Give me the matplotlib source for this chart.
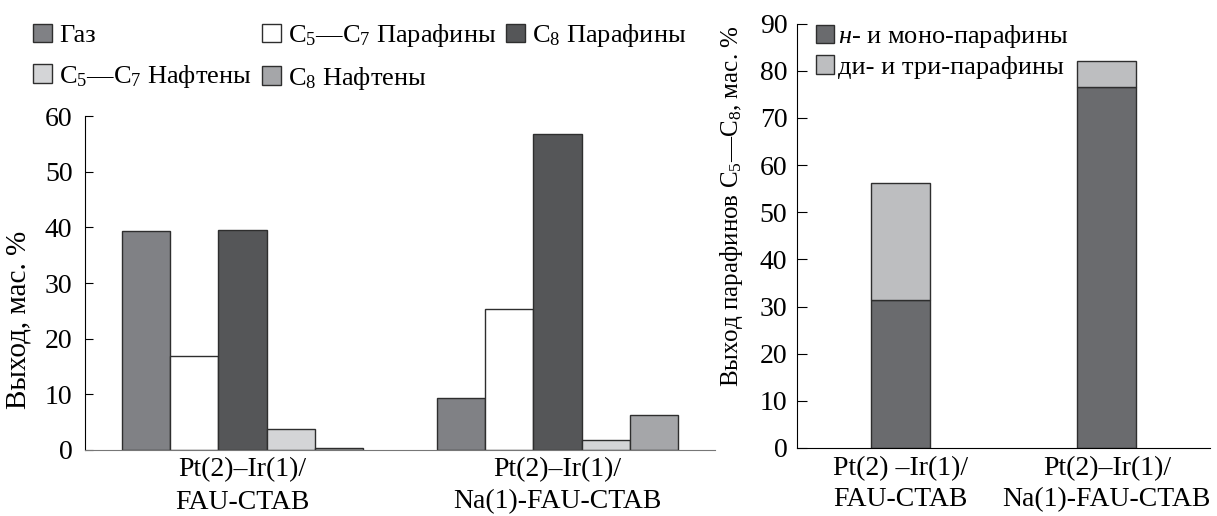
import matplotlib.pyplot as plt
import numpy as np

plt.rcParams['font.family'] = ['Liberation Serif', 'DejaVu Serif']
plt.rcParams['mathtext.fontset'] = 'custom'
plt.rcParams['mathtext.rm'] = 'Liberation Serif'
plt.rcParams['mathtext.it'] = 'Liberation Serif:italic'

# left chart: product yields
catalysts_left = ["Pt(2)–Ir(1)/\nFAU-CTAB", "Pt(2)–Ir(1)/\nNa(1)-FAU-CTAB"]
series_names = ["Газ", "C$_5$—C$_7$ Парафины", "C$_8$ Парафины",
                "C$_5$—C$_7$ Нафтены", "C$_8$ Нафтены"]
gas = [39.4, 9.4]
par_c5c7 = [16.8, 25.3]
par_c8 = [39.5, 56.7]
naph_c5c7 = [3.8, 1.7]
naph_c8 = [0.4, 6.3]
colors_left = ['#808185', '#ffffff', '#555658', '#d4d5d7', '#a5a6a9']

# right chart: paraffin yields
catalysts_right = ["Pt(2) –Ir(1)/\nFAU-CTAB", "Pt(2)–Ir(1)/\nNa(1)-FAU-CTAB"]
mono = [31.4, 76.6]
di_tri = [24.8, 5.4]
right_names = ["$\\mathit{н}$- и моно-парафины", "ди- и три-парафины"]
colors_right = ['#6a6b6e', '#bdbec0']

EDGE = '#2e2e2e'
FS = 20

fig = plt.figure(figsize=(12.17, 5.16), dpi=100)
ax1 = fig.add_axes([0.0698, 0.128, 0.5177, 0.647])
ax2 = fig.add_axes([0.6549, 0.132, 0.3394, 0.822])

# --- left ---
x = np.arange(len(catalysts_left))
w = 0.1535
values = [gas, par_c5c7, par_c8, naph_c5c7, naph_c8]
handles = []
for i, (vals, c, name) in enumerate(zip(values, colors_left, series_names)):
    b = ax1.bar(x + (i - 2) * w, vals, w, color=c, edgecolor=EDGE, linewidth=1.0, label=name)
    handles.append(b)

ax1.set_xlim(-0.5, 1.5)
ax1.set_ylim(0, 60)
ax1.set_yticks(range(0, 61, 10))
ax1.set_xticks(x)
ax1.set_xticklabels(catalysts_left, fontsize=FS, linespacing=1.4)
ax1.tick_params(axis='y', direction='in', length=6, labelsize=FS, pad=9)
ax1.tick_params(axis='x', length=0, pad=5)
ax1.spines['top'].set_visible(False)
ax1.spines['right'].set_visible(False)
ax1.spines['bottom'].set_color('#777777')
ax1.set_ylabel("Выход, мас. %", fontsize=21)
ax1.yaxis.set_label_coords(-0.085, 0.39)

# legend: reorder so it reads row by row
order = [0, 3, 1, 4, 2]
fig.legend([handles[k] for k in order], [series_names[k] for k in order],
           ncol=3, loc='upper left', bbox_to_anchor=(0.027, 0.957), frameon=False,
           fontsize=19, handlelength=0.72, handleheight=0.72, handletextpad=0.27,
           columnspacing=0.38, labelspacing=0.6, borderpad=0, borderaxespad=0)

# --- right ---
xr = np.arange(len(catalysts_right))
wr = 0.285
b1 = ax2.bar(xr, mono, wr, color=colors_right[0], edgecolor=EDGE, linewidth=1.0)
b2 = ax2.bar(xr, di_tri, wr, bottom=mono, color=colors_right[1], edgecolor=EDGE, linewidth=1.0)
ax2.set_xlim(-0.5, 1.5)
ax2.set_ylim(0, 90)
ax2.set_yticks(range(0, 91, 10))
ax2.set_xticks(xr)
ax2.set_xticklabels(catalysts_right, fontsize=FS, linespacing=1.3)
ax2.tick_params(axis='y', direction='in', length=7, labelsize=FS, pad=7)
ax2.tick_params(axis='x', length=0, pad=6)
ax2.spines['top'].set_visible(False)
ax2.spines['right'].set_visible(False)
ax2.set_ylabel("Выход парафинов C$_5$—C$_8$, мас. %", fontsize=18)
ax2.yaxis.set_label_coords(-0.125, 0.57)
fig.legend([b1, b2], right_names, loc='upper left', bbox_to_anchor=(0.6705, 0.955),
           frameon=False, fontsize=19, handlelength=0.7, handleheight=0.7,
           handletextpad=0.15, labelspacing=0.2, borderpad=0, borderaxespad=0)

fig.savefig("out.png", dpi=100)
